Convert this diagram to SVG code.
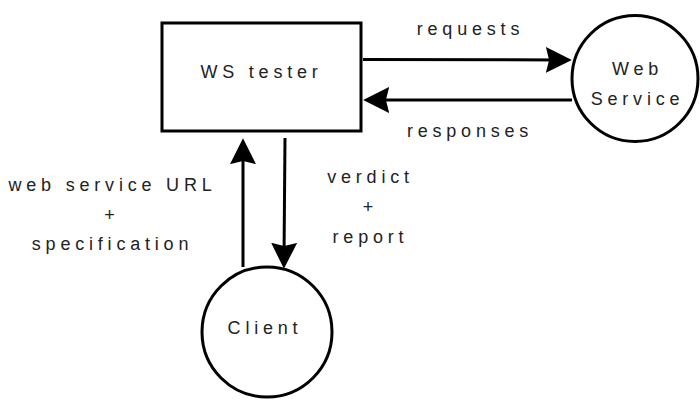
<svg xmlns="http://www.w3.org/2000/svg" width="700" height="411" viewBox="0 0 700 411">
<defs>
<style>
.shape{fill:#fff;stroke:#000;stroke-width:3}
.conn{stroke:#000;stroke-width:3;fill:none}
text{font-family:"Liberation Sans",Arial,sans-serif;font-size:18px;letter-spacing:4.8px;fill:#222;text-anchor:middle}
</style>
<marker id="ah" markerUnits="userSpaceOnUse" markerWidth="26" markerHeight="26" viewBox="0 0 24 24" refX="14" refY="12" orient="auto">
<path d="M0,0 L24,12 L0,24 L3,12 z" fill="#000"/>
</marker>
</defs>
<rect width="700" height="411" fill="#fff"/>
<g id="ws-tester">
<rect class="shape" x="162" y="23" width="199" height="108"/>
<text x="261.5" y="78">WS tester</text>
</g>
<g id="web-service">
<circle class="shape" cx="635" cy="78.5" r="63"/>
<text x="637.5" y="75">Web</text>
<text x="637.5" y="105">Service</text>
</g>
<g id="client">
<circle class="shape" cx="267" cy="332" r="65"/>
<text x="265" y="334">Client</text>
</g>
<g id="connectors">
<line class="conn" x1="363" y1="59.5" x2="561" y2="60" marker-end="url(#ah)"/>
<line class="conn" x1="572" y1="100" x2="374" y2="100" marker-end="url(#ah)"/>
<line class="conn" x1="243" y1="267" x2="243" y2="149" marker-end="url(#ah)"/>
<line class="conn" x1="285" y1="138" x2="284" y2="258" marker-end="url(#ah)"/>
<text x="470.5" y="35">requests</text>
<text x="470" y="137">responses</text>
<text x="112.5" y="191">web service URL</text>
<text x="112" y="220.5">+</text>
<text x="112.5" y="250">specification</text>
<text x="370.5" y="183">verdict</text>
<text x="370.5" y="213">+</text>
<text x="370.5" y="243">report</text>
</g>
</svg>
